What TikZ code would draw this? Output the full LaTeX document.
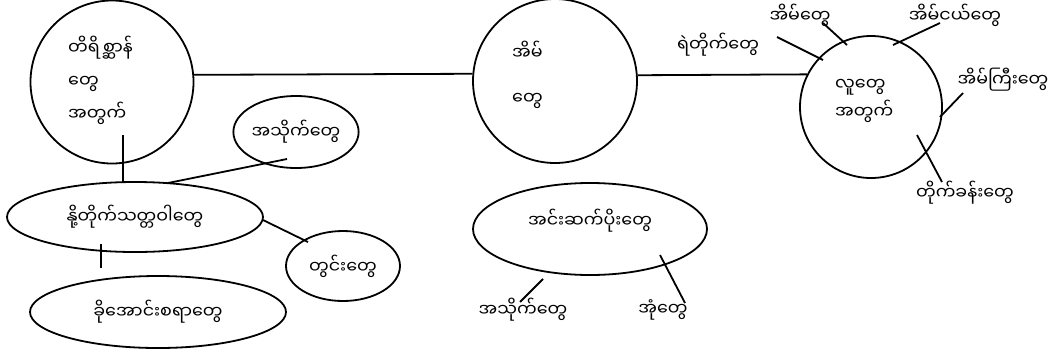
\documentclass[tikz,border=0pt]{standalone}
\usepackage{fontspec}
\newfontfamily\mya[Script=Myanmar]{Noto Sans Myanmar UI}
\tikzset{
  ln/.style={line width=1.8pt, black},
  circ/.style={circle, draw, line width=1.8pt, inner sep=0pt},
  ell/.style={ellipse, draw, line width=1.8pt, inner sep=0pt, font=\mya\fontsize{17.5}{20}\selectfont},
  txt/.style={font=\mya\fontsize{17.5}{20}\selectfont, inner sep=0pt},
}
\usetikzlibrary{shapes.geometric}
\begin{document}
\begin{tikzpicture}[x=1pt,y=-1pt]
\useasboundingbox (0,0) rectangle (1059,354);
% circles
\node[circ, minimum size=163pt] (c1) at (112,82) {};
\node[circ, minimum size=164pt] (c2) at (555,81) {};
\node[circ, minimum size=142pt] (c3) at (871,107) {};
\node[txt, align=left, anchor=west, font=\mya\fontsize{17.5}{33}\selectfont] (t1) at (68,80) {တိရိစ္ဆာန်\\တွေ\\အတွက်};
\node[txt, align=left, anchor=west, font=\mya\fontsize{17.5}{45}\selectfont] (t2) at (512,75) {အိမ်\\တွေ};
\node[txt, align=left, anchor=west, font=\mya\fontsize{17.5}{28}\selectfont] (t3) at (835,101) {လူတွေ\\အတွက်};
% ellipses
\node[ell, minimum width=112pt, minimum height=72pt] (e1) at (296,132) {အသိုက်တွေ};
\node[ell, minimum width=256pt, minimum height=70pt] (e2) at (135,217) {နို့တိုက်သတ္တဝါတွေ};
\node[ell, minimum width=114pt, minimum height=70pt] (e3) at (343,266) {တွင်းတွေ};
\node[ell, minimum width=256pt, minimum height=72pt] (e4) at (158,312) {ခိုအောင်းစရာတွေ};
\node[ell, minimum width=234pt, minimum height=92pt] (e5) at (590,229) {\raisebox{0pt}[\height][\dimexpr\depth+16pt\relax]{အင်းဆက်ပိုးတွေ}};
% labels
\node[txt] (l1) at (718,45) {ရဲတိုက်တွေ};
\node[txt] (l2) at (800,15) {အိမ်တွေ};
\node[txt] (l3) at (955,15) {အိမ်ငယ်တွေ};
\node[txt] (l4) at (1003,80) {အိမ်ကြီးတွေ};
\node[txt] (l5) at (965,193) {တိုက်ခန်းတွေ};
\node[txt] (l6) at (523,310) {အသိုက်တွေ};
\node[txt] (l7) at (663,310) {အုံတွေ};
% connector end points
\coordinate (a1) at (777,37); \coordinate (b1) at (823,60);
\coordinate (a2) at (823,23); \coordinate (b2) at (847,45);
\coordinate (a3) at (940,23); \coordinate (b3) at (893,45);
\coordinate (a4) at (963,93); \coordinate (b4) at (940,117);
\coordinate (a5) at (917,135); \coordinate (b5) at (942,182);
\coordinate (a6) at (543,279); \coordinate (b6) at (520,302);
\coordinate (a7) at (660,255); \coordinate (b7) at (685,303);
\coordinate (a8) at (123,135); \coordinate (b8) at (123,183);
\coordinate (a9) at (168,183); \coordinate (b9) at (287,159);
\coordinate (a10) at (263,220); \coordinate (b10) at (308,242);
\coordinate (a11) at (101,244); \coordinate (b11) at (101,268);
% connectors
\draw[ln] (c1.5) -- (c2.175);
\draw[ln] (c2.4) -- (c3.153);
\foreach \i in {1,...,11} { \draw[ln] (a\i) -- (b\i); }
\end{tikzpicture}
\end{document}
